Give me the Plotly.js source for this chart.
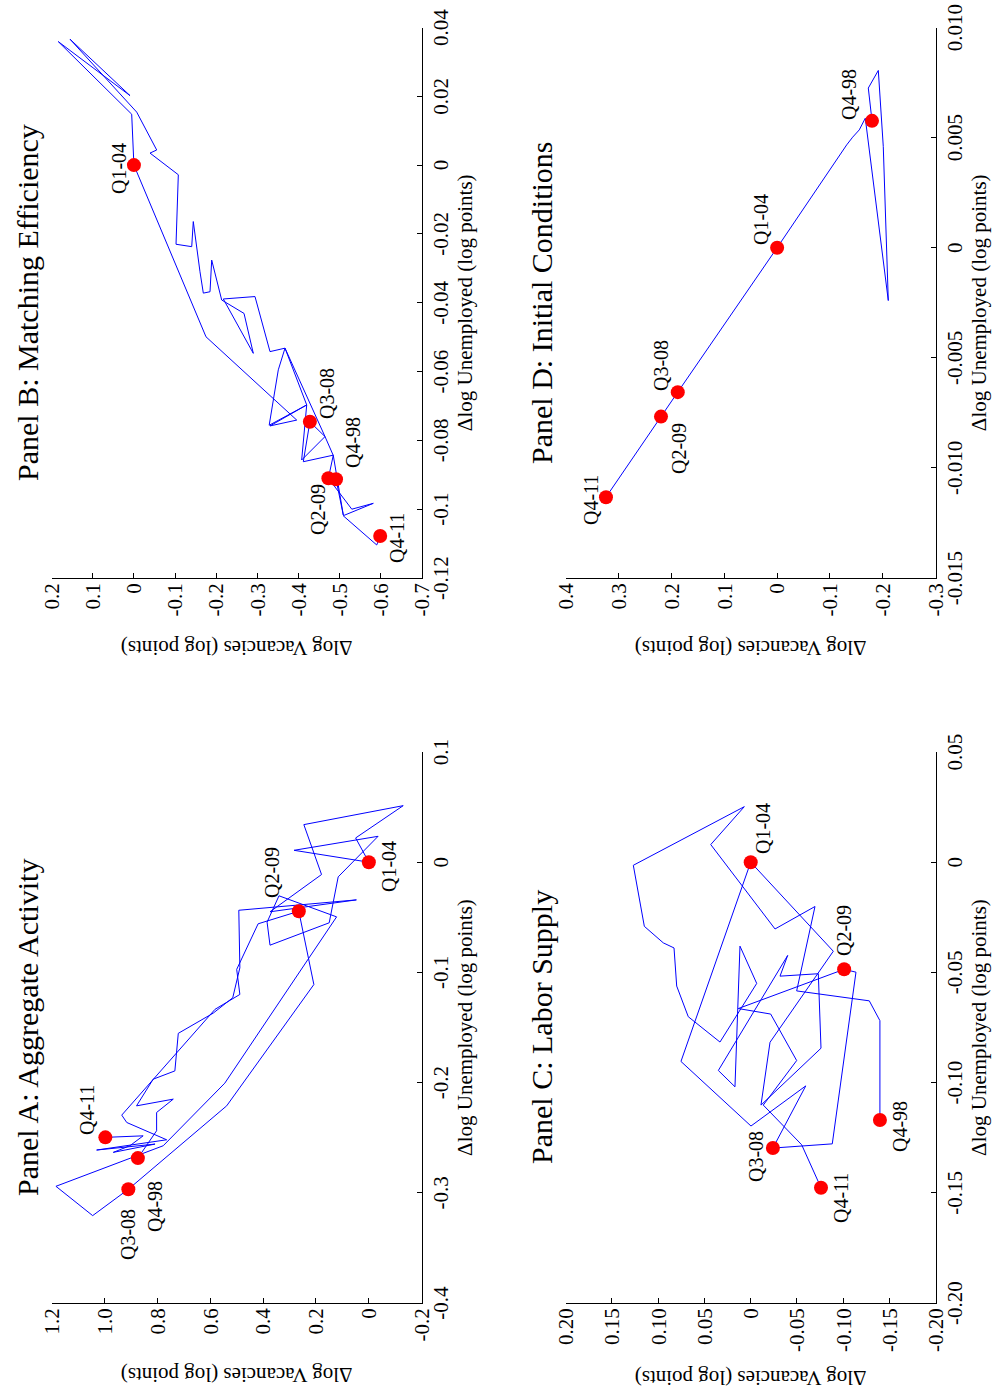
<!DOCTYPE html>
<html>
<head>
<meta charset="utf-8">
<script src="https://cdn.plot.ly/plotly-3.0.1.min.js"></script>
<style>
html,body{margin:0;padding:0;background:#fff;width:992px;height:1393px;overflow:hidden;}
#wrap{position:absolute;left:0;top:0;width:1393px;height:992px;transform-origin:0 0;transform:translate(0px,1393px) rotate(-90deg);}
#chart{width:1393px;height:992px;}
</style>
</head>
<body>
<div id="wrap"><div id="chart"></div></div>
<script>
// ---------- data (x = Δlog Unemployed, y = Δlog Vacancies) ----------
const dotLabels = ["Q4-98", "Q1-04", "Q3-08", "Q2-09", "Q4-11"];

// Panel A: Aggregate Activity
const uA = [-0.2685,-0.2437,-0.2271,-0.215,-0.2211,-0.1969,-0.1894,-0.1553,-0.137,-0.123,-0.0958,-0.0436,-0.0342,-0.045,-0.0112,0.0341,0.0513,0.022,0,
            0.0108,0.0235,-0.0133,-0.055,-0.0753,-0.0544,-0.0305,-0.0496,-0.2005,-0.2573,-0.2941,-0.3207,-0.2968,-0.2211,-0.111,-0.0445,
            -0.0559,-0.0973,-0.120,-0.1335,-0.2295,-0.2362,-0.2519,-0.2612,-0.2558,-0.2633,-0.2573,-0.2483,-0.2497];
const vA = [0.874,0.803,0.803,0.740,0.879,0.816,0.734,0.721,0.589,0.515,0.488,0.492,0.047,0.374,0.179,0.246,-0.130,0.050,0,
            0.283,-0.035,0.116,0.150,0.374,0.385,0.340,0.122,0.545,0.778,1.184,1.045,0.910,0.538,0.208,0.265,
            0.419,0.500,0.488,0.582,0.935,0.916,0.765,1.030,0.809,0.967,0.904,0.854,0.997];
const uAdots = [-0.2685, 0, -0.2968, -0.0445, -0.2497];
const vAdots = [0.874, 0, 0.910, 0.265, 0.997];

// Panel B: Matching Efficiency
const uB = [-0.0913,-0.1017,-0.0844,-0.0789,-0.0857,-0.0697,-0.0756,-0.0595,-0.0532,-0.0542,-0.0382,-0.0389,-0.0547,-0.0431,-0.0392,-0.0276,-0.0368,-0.0372,-0.0310,-0.0164,-0.0237,-0.0230,-0.0028,0.0035,0.0044,0.0154,0.0366,0.0202,0.0359,0.0148,0,
            -0.0499,-0.0741,-0.0758,-0.0697,-0.0532,-0.0789,-0.0746,
            -0.0862,-0.0843,-0.091,
            -0.1000,-0.0983,-0.1019,-0.1104,-0.1078];
const vB = [-0.4916,-0.5093,-0.485,-0.4648,-0.408,-0.4203,-0.329,-0.3512,-0.3675,-0.331,-0.2945,-0.2174,-0.2904,-0.2678,-0.2135,-0.1892,-0.1851,-0.1688,-0.1607,-0.1444,-0.1406,-0.1024,-0.108,-0.0391,-0.0554,-0.0068,0.1555,0.0095,0.184,0.0054,0,
            -0.1753,-0.396,-0.331,-0.4203,-0.3675,-0.4648,-0.428,
            -0.412,-0.485,-0.473,
            -0.530,-0.5823,-0.509,-0.5906,-0.599];
const uBdots = [-0.0913, 0, -0.0746, -0.091, -0.1078];
const vBdots = [-0.4916, 0, -0.428, -0.473, -0.599];

// Panel C: Labor Supply
const uC = [-0.1170,-0.0719,-0.0629,-0.0584,-0.0201,-0.0303,0.0080,0.0252,-0.0014,-0.0291,-0.0366,-0.0389,-0.0562,-0.0701,-0.0816,-0.0550,-0.0381,-0.1019,-0.0945,-0.0423,-0.0517,-0.0506,-0.0844,-0.1102,-0.0817,-0.0404,0,
            -0.0904,-0.1197,-0.1015,-0.1297,
            -0.1278,-0.0499,-0.0486,
            -0.0664,-0.0689,-0.0900,-0.1102,-0.1282,-0.1477];
const vC = [-0.1397,-0.1397,-0.1282,-0.0497,-0.0695,-0.0263,0.0432,0.0069,0.1269,0.1150,0.0945,0.0829,0.0800,0.0675,0.0332,-0.0065,0.0116,0.0170,0.0350,-0.0400,-0.0317,-0.0731,-0.0760,-0.0111,-0.0209,-0.0893,0,
            0.0754,-0.0003,-0.0595,-0.024,
            -0.0882,-0.1138,-0.101,
            0.0134,-0.0216,-0.0497,-0.0136,-0.0551,-0.076];
const uCdots = [-0.1170, 0, -0.1297, -0.0486, -0.1477];
const vCdots = [-0.1397, 0, -0.024, -0.101, -0.076];

// Panel D: Initial Conditions
const uD = [0.00576,0.00725,0.00805,0.0046,-0.0024,0.00588,0.00535,0.00502,0.00467,0,-0.00656,-0.00767,-0.01133];
const vD = [-0.1795,-0.1725,-0.1914,-0.2008,-0.2103,-0.1668,-0.1554,-0.1429,-0.1316,0,0.188,0.2197,0.3238];
const uDdots = [0.00576, 0, -0.00656, -0.00767, -0.01133];
const vDdots = [-0.1795, 0, 0.188, 0.2197, 0.3238];

// tick values / labels
const xTickA = [-0.4,-0.3,-0.2,-0.1,0,0.1];
const xTextA = ["-0.4","-0.3","-0.2","-0.1","0","0.1"];
const yTickA = [-0.2,0,0.2,0.4,0.6,0.8,1.0,1.2];
const yTextA = ["-0.2","0","0.2","0.4","0.6","0.8","1.0","1.2"];
const xTickB = [-0.12,-0.1,-0.08,-0.06,-0.04,-0.02,0,0.02,0.04];
const xTextB = ["-0.12","-0.1","-0.08","-0.06","-0.04","-0.02","0","0.02","0.04"];
const yTickB = [-0.7,-0.6,-0.5,-0.4,-0.3,-0.2,-0.1,0,0.1,0.2];
const yTextB = ["-0.7","-0.6","-0.5","-0.4","-0.3","-0.2","-0.1","0","0.1","0.2"];
const xTickC = [-0.2,-0.15,-0.1,-0.05,0,0.05];
const xTextC = ["-0.20","-0.15","-0.10","-0.05","0","0.05"];
const yTickC = [-0.2,-0.15,-0.1,-0.05,0,0.05,0.1,0.15,0.2];
const yTextC = ["-0.20","-0.15","-0.10","-0.05","0","0.05","0.10","0.15","0.20"];
const xTickD = [-0.015,-0.01,-0.005,0,0.005,0.01];
const xTextD = ["-0.015","-0.010","-0.005","0","0.005","0.010"];
const yTickD = [-0.3,-0.2,-0.1,0,0.1,0.2,0.3,0.4];
const yTextD = ["-0.3","-0.2","-0.1","0","0.1","0.2","0.3","0.4"];

const panelTitles = ["Panel A: Aggregate Activity","Panel B: Matching Efficiency","Panel C: Labor Supply","Panel D: Initial Conditions"];
const xTitle = "Δlog Unemployed (log points)";
const yTitle = "Δlog Vacancies (log points)";

// ---------- styling / layout ----------
const FONT = "Liberation Serif, 'Times New Roman', Times, serif";
const W = 1393, H = 992;
const colL = [90/W, 641/W], colR = [815/W, 1365.5/W];
const rowT = [(H-421.7)/H, (H-51.7)/H], rowB = [(H-935.7)/H, (H-565.7)/H];

function xax(dom, anchor, range, vals, text) {
  return {domain: dom, anchor: anchor, range: range, tickvals: vals, ticktext: text,
    ticks: 'inside', ticklen: 5, tickwidth: 1, tickcolor: '#000',
    showline: true, linecolor: '#000', linewidth: 1, showgrid: false, zeroline: false,
    tickfont: {family: FONT, size: 21, color: '#000'},
    title: {text: xTitle, font: {family: FONT, size: 21, color: '#000'}, standoff: 4},
    automargin: false, fixedrange: true};
}
function yax(dom, anchor, range, vals, text, standoff) {
  return {domain: dom, anchor: anchor, range: range, tickvals: vals, ticktext: text,
    ticks: 'inside', ticklen: 5, tickwidth: 1, tickcolor: '#000',
    showline: true, linecolor: '#000', linewidth: 1, showgrid: false, zeroline: false,
    tickfont: {family: FONT, size: 21, color: '#000'},
    title: {text: yTitle, font: {family: FONT, size: 21, color: '#000'}, standoff: standoff},
    automargin: false, fixedrange: true};
}

const panels = [
  {u: uA, v: vA, ud: uAdots, vd: vAdots, xr: 'x',  yr: 'y',
   off: [[-48,-17],[-4,-20],[-45,0],[39,27],[27,18]]},
  {u: uB, v: vB, ud: uBdots, vd: vBdots, xr: 'x2', yr: 'y2',
   off: [[37,-17],[-3,15],[28,-17],[-31,10],[-2,-17]]},
  {u: uC, v: vC, ud: uCdots, vd: vCdots, xr: 'x3', yr: 'y3',
   off: [[-6,-20],[34,-12],[-8,17],[39,0],[-10,-20]]},
  {u: uD, v: vD, ud: uDdots, vd: vDdots, xr: 'x4', yr: 'y4',
   off: [[26,23],[28,16],[27,17],[-32,-18],[-3,15]]}
];

const traces = [];
const annotations = [];
panels.forEach(p => {
  traces.push({type: 'scatter', mode: 'lines', x: p.u, y: p.v, xaxis: p.xr, yaxis: p.yr,
    line: {color: '#0000ff', width: 1}, hoverinfo: 'skip', showlegend: false});
  traces.push({type: 'scatter', mode: 'markers', x: p.ud, y: p.vd, xaxis: p.xr, yaxis: p.yr,
    marker: {color: '#ff0000', size: 14}, hoverinfo: 'skip', showlegend: false});
  dotLabels.forEach((lab, i) => {
    annotations.push({text: lab, x: p.ud[i], y: p.vd[i], xref: p.xr, yref: p.yr,
      showarrow: false, xanchor: 'center', yanchor: 'middle',
      xshift: p.off[i][0], yshift: p.off[i][1],
      font: {family: FONT, size: 20, color: '#000'}});
  });
});

const titleY = [(H-27)/H, (H-27)/H, (H-541)/H, (H-541)/H];
const titleX = [(colL[0]+colL[1])/2, (colR[0]+colR[1])/2, (colL[0]+colL[1])/2, (colR[0]+colR[1])/2];
panelTitles.forEach((t, i) => {
  annotations.push({text: t, xref: 'paper', yref: 'paper', x: titleX[i], y: titleY[i],
    xanchor: 'center', yanchor: 'middle', showarrow: false,
    font: {family: FONT, size: 30, color: '#000'}});
});

const layout = {
  width: W, height: H,
  margin: {l: 0, r: 0, t: 0, b: 0, pad: 0},
  paper_bgcolor: '#fff', plot_bgcolor: '#fff',
  showlegend: false, hovermode: false,
  xaxis:  xax(colL, 'y',  [-0.4, 0.1],     xTickA, xTextA),
  yaxis:  yax(rowT, 'x',  [-0.2, 1.2],     yTickA, yTextA, 20),
  xaxis2: xax(colR, 'y2', [-0.12, 0.04],   xTickB, xTextB),
  yaxis2: yax(rowT, 'x2', [-0.7, 0.2],     yTickB, yTextB, 18),
  xaxis3: xax(colL, 'y3', [-0.2, 0.05],    xTickC, xTextC),
  yaxis3: yax(rowB, 'x3', [-0.2, 0.2],     yTickC, yTextC, 12),
  xaxis4: xax(colR, 'y4', [-0.015, 0.010], xTickD, xTextD),
  yaxis4: yax(rowB, 'x4', [-0.3, 0.4],     yTickD, yTextD, 18),
  annotations: annotations
};

Plotly.newPlot('chart', traces, layout, {displayModeBar: false, staticPlot: true, responsive: false});
</script>
</body>
</html>
